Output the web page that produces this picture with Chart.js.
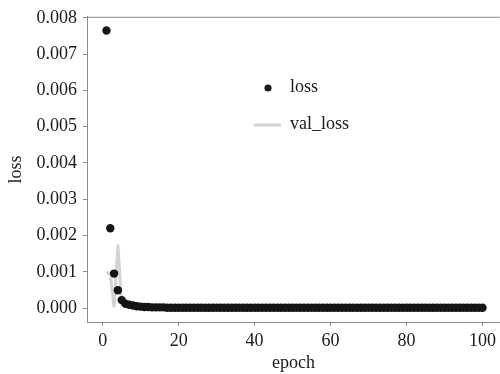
<!DOCTYPE html>
<html>
<head>
<meta charset="utf-8">
<script src="https://cdn.jsdelivr.net/npm/chart.js@4.4.0/dist/chart.umd.min.js"></script>
<style>
    html, body { margin: 0; padding: 0; background: #fff; overflow: hidden; }
    #wrap { width: 500px; height: 374px; overflow: hidden; }
</style>
</head>
<body>
<div id="wrap"><canvas id="chart" width="504" height="374"></canvas></div>
<script>
// epochs 1..100
const epochs = [];
for (let e = 1; e <= 100; e++) epochs.push(e);

const lossValues = [
    0.00765, 0.00220, 0.00095, 0.00049, 0.00022, 0.00012, 0.00009, 0.00007, 0.00005, 0.00004,
    0.00003, 0.00003, 0.00002, 0.00002, 0.00002, 0.00002, 0.00001, 0.00001, 0.00001, 0.00001,
    0.00001, 0.00001, 0.00001, 0.00001, 0.00001, 0.00001, 0.00001, 0.00001, 0.00001, 0.00001,
    0.00001, 0.00001, 0.00001, 0.00001, 0.00001, 0.00001, 0.00001, 0.00001, 0.00001, 0.00001,
    0.00001, 0.00001, 0.00001, 0.00001, 0.00001, 0.00001, 0.00001, 0.00001, 0.00001, 0.00001,
    0.00001, 0.00001, 0.00001, 0.00001, 0.00001, 0.00001, 0.00001, 0.00001, 0.00001, 0.00001,
    0.00001, 0.00001, 0.00001, 0.00001, 0.00001, 0.00001, 0.00001, 0.00001, 0.00001, 0.00001,
    0.00001, 0.00001, 0.00001, 0.00001, 0.00001, 0.00001, 0.00001, 0.00001, 0.00001, 0.00001,
    0.00001, 0.00001, 0.00001, 0.00001, 0.00001, 0.00001, 0.00001, 0.00001, 0.00001, 0.00001,
    0.00001, 0.00001, 0.00001, 0.00001, 0.00001, 0.00001, 0.00001, 0.00001, 0.00001, 0.00001
];

const valLossValues = [
    0.00100, 0.00092, 0.00002, 0.00175, 0.00010, 0.00012, 0.00010, 0.00010, 0.00008, 0.00009,
    0.00007, 0.00006, 0.00006, 0.00004, 0.00003, 0.00003, 0.00002, 0.00002, 0.00002, 0.00002,
    0.00002, 0.00002, 0.00002, 0.00002, 0.00002, 0.00002, 0.00002, 0.00002, 0.00002, 0.00002,
    0.00002, 0.00002, 0.00002, 0.00002, 0.00002, 0.00002, 0.00002, 0.00002, 0.00002, 0.00002,
    0.00002, 0.00002, 0.00002, 0.00002, 0.00002, 0.00002, 0.00002, 0.00002, 0.00002, 0.00002,
    0.00002, 0.00002, 0.00002, 0.00002, 0.00002, 0.00002, 0.00002, 0.00002, 0.00002, 0.00002,
    0.00002, 0.00002, 0.00002, 0.00002, 0.00002, 0.00002, 0.00002, 0.00002, 0.00002, 0.00002,
    0.00002, 0.00002, 0.00002, 0.00002, 0.00002, 0.00002, 0.00002, 0.00002, 0.00002, 0.00002,
    0.00002, 0.00002, 0.00002, 0.00002, 0.00002, 0.00002, 0.00002, 0.00002, 0.00002, 0.00002,
    0.00002, 0.00002, 0.00002, 0.00002, 0.00002, 0.00002, 0.00002, 0.00002, 0.00002, 0.00002
];

const xTicks = [0, 20, 40, 60, 80, 100];
const yTicks = [0.000, 0.001, 0.002, 0.003, 0.004, 0.005, 0.006, 0.007, 0.008];

const FONT = "'Liberation Serif', 'DejaVu Serif', serif";
const AXIS_GRAY = '#8c8c8c';

// top spine + legend inside the plot
const extras = {
    id: 'extras',
    afterDraw(chart) {
        const ctx = chart.ctx;
        const area = chart.chartArea;
        ctx.save();
        ctx.strokeStyle = AXIS_GRAY;
        ctx.lineWidth = 1;
        ctx.beginPath();
        ctx.moveTo(area.left, area.top + 0.5);
        ctx.lineTo(area.right, area.top + 0.5);
        ctx.stroke();

        // legend
        ctx.font = '18px ' + FONT;
        ctx.fillStyle = '#1a1a1a';
        ctx.textBaseline = 'middle';
        ctx.beginPath();
        ctx.arc(268, 88, 3.6, 0, Math.PI * 2);
        ctx.fill();
        ctx.fillText('loss', 290, 87);

        ctx.strokeStyle = '#d3d3d3';
        ctx.lineWidth = 3;
        ctx.beginPath();
        ctx.moveTo(254, 125);
        ctx.lineTo(281, 125);
        ctx.stroke();
        ctx.fillStyle = '#1a1a1a';
        ctx.fillText('val_loss', 290, 124);
        ctx.restore();
    }
};

const toPoints = vals => vals.map((v, i) => ({ x: epochs[i], y: v }));

new Chart(document.getElementById('chart'), {
    type: 'scatter',
    data: {
        datasets: [
            {
                label: 'loss',
                data: toPoints(lossValues),
                showLine: false,
                backgroundColor: '#151515',
                pointBorderColor: '#151515',
                pointBorderWidth: 0,
                pointRadius: 4.2,
                order: 0
            },
            {
                label: 'val_loss',
                data: toPoints(valLossValues),
                showLine: true,
                borderColor: '#d3d3d3',
                borderWidth: 3,
                pointRadius: 0,
                tension: 0,
                order: 1
            }
        ]
    },
    options: {
        responsive: false,
        animation: false,
        layout: { padding: { top: 15, right: 0, left: 0, bottom: 0 } },
        plugins: {
            legend: { display: false },
            tooltip: { enabled: false }
        },
        scales: {
            x: {
                type: 'linear',
                min: -4.13,
                max: 104.55,
                afterBuildTicks: scale => { scale.ticks = xTicks.map(v => ({ value: v })); },
                afterFit: scale => {
                    scale.height = 52;
                    scale.paddingRight = 0;
                    scale.paddingLeft = 0;
                },
                grid: { drawOnChartArea: false, drawTicks: true, tickLength: 4, color: AXIS_GRAY },
                border: { display: true, color: AXIS_GRAY },
                ticks: { font: { family: FONT, size: 18 }, color: '#1a1a1a', padding: 4, maxRotation: 0 },
                title: { display: true, text: 'epoch', font: { family: FONT, size: 18 }, color: '#1a1a1a', padding: { top: 4, bottom: 0 } }
            },
            y: {
                type: 'linear',
                min: -0.000384,
                max: 0.008027,
                afterBuildTicks: scale => { scale.ticks = yTicks.map(v => ({ value: v })); },
                afterFit: scale => { scale.width = 87; },
                grid: { drawOnChartArea: false, drawTicks: true, tickLength: 4, color: AXIS_GRAY },
                border: { display: true, color: AXIS_GRAY },
                ticks: {
                    font: { family: FONT, size: 18 }, color: '#1a1a1a', padding: 6,
                    callback: v => v.toFixed(3)
                },
                title: { display: true, text: 'loss', font: { family: FONT, size: 18 }, color: '#1a1a1a', padding: { top: 5, bottom: 2 } }
            }
        }
    },
    plugins: [extras]
});
</script>
</body>
</html>
